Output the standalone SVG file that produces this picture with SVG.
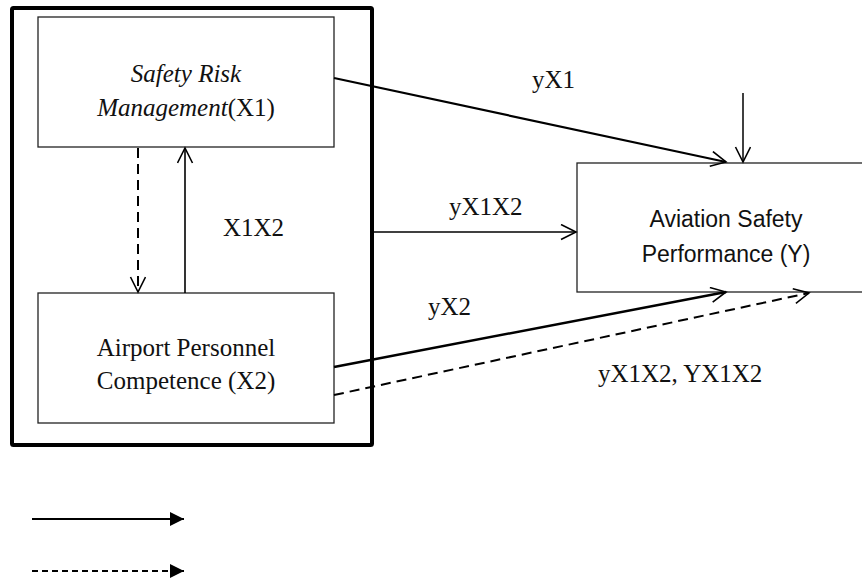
<svg xmlns="http://www.w3.org/2000/svg" width="862" height="581" viewBox="0 0 862 581">
<style>
.serif{font-family:"Liberation Serif","Times New Roman",serif;font-size:25px;fill:#111}
.sans{font-family:"Liberation Sans",Arial,sans-serif;font-size:23px;fill:#111}
.box{fill:#fff;stroke:#222;stroke-width:1.3}
.ln{fill:none;stroke:#000}
.dash{stroke-dasharray:10 6}
</style>
<defs>
<marker id="open" markerWidth="20" markerHeight="20" refX="16" refY="8" orient="auto" markerUnits="userSpaceOnUse">
<path d="M1,0.5 L16,8 L1,15.5" fill="none" stroke="#000" stroke-width="1.6"/>
</marker>
<marker id="solid" markerWidth="16" markerHeight="16" refX="14" refY="7" orient="auto" markerUnits="userSpaceOnUse">
<path d="M0,0 L14,7 L0,14 Z" fill="#000"/>
</marker>
</defs>
<g id="group-box">
<rect x="12" y="8" width="360" height="437" rx="1.5" fill="none" stroke="#000" stroke-width="4"/>
</g>
<g id="node-x1">
<rect class="box" x="38" y="17" width="296" height="130"/>
<text class="serif" x="186" y="82" text-anchor="middle" font-style="italic">Safety Risk</text>
<text class="serif" x="186" y="116" text-anchor="middle"><tspan font-style="italic">Management</tspan>(X1)</text>
</g>
<g id="node-x2">
<rect class="box" x="38" y="293" width="296" height="130"/>
<text class="serif" x="186" y="356" text-anchor="middle">Airport Personnel</text>
<text class="serif" x="186" y="389" text-anchor="middle">Competence (X2)</text>
</g>
<g id="node-y">
<rect class="box" x="577" y="163" width="297" height="129"/>
<text class="sans" x="726" y="227" text-anchor="middle">Aviation Safety</text>
<text class="sans" x="726" y="262" text-anchor="middle">Performance (Y)</text>
</g>
<g id="connectors">
<line class="ln" x1="334" y1="78" x2="726" y2="162" stroke-width="2.2" marker-end="url(#open)"/>
<line class="ln" x1="743" y1="93" x2="743" y2="162" stroke-width="1.5" marker-end="url(#open)"/>
<line class="ln" x1="374" y1="232" x2="576" y2="232" stroke-width="1.3" marker-end="url(#open)"/>
<line class="ln" x1="334" y1="367" x2="726" y2="292" stroke-width="2.5" marker-end="url(#open)"/>
<line class="ln dash" x1="334" y1="395" x2="809" y2="293" stroke-width="2" marker-end="url(#open)"/>
<line class="ln" x1="185" y1="293" x2="185" y2="148" stroke-width="1.6" marker-end="url(#open)"/>
<line class="ln" x1="138" y1="148" x2="138" y2="292" stroke-width="2" stroke-dasharray="10 6" marker-end="url(#open)"/>
</g>
<g id="labels">
<text class="serif" x="532" y="88">yX1</text>
<text class="serif" x="449" y="215">yX1X2</text>
<text class="serif" x="428" y="315">yX2</text>
<text class="serif" x="598" y="382">yX1X2, YX1X2</text>
<text class="serif" x="223" y="236">X1X2</text>
</g>
<g id="legend">
<line class="ln" x1="32" y1="519" x2="184" y2="519" stroke-width="1.8" marker-end="url(#solid)"/>
<line class="ln" x1="32" y1="571" x2="184" y2="571" stroke-width="1.8" stroke-dasharray="6 4" marker-end="url(#solid)"/>
</g>
</svg>
